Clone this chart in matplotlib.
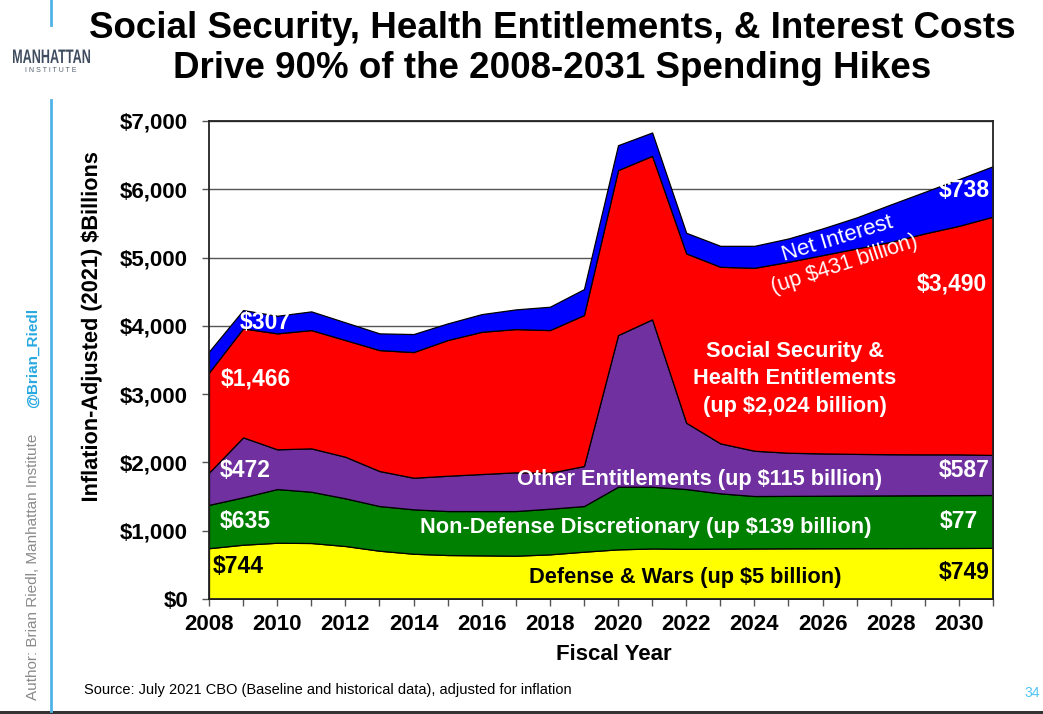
import matplotlib
matplotlib.use("Agg")
import matplotlib.pyplot as plt
from matplotlib.textpath import TextPath
from matplotlib.patches import PathPatch
from matplotlib.font_manager import FontProperties
from matplotlib.transforms import Affine2D

plt.rcParams['font.family'] = ['Liberation Sans', 'DejaVu Sans']

years = list(range(2008, 2032))
defense = [744, 795, 824, 820, 776, 707, 663, 644, 639, 634, 654, 693, 727,
           740, 735, 738, 740, 742, 743, 744, 745, 746, 747, 749]
non_defense = [635, 694, 786, 751, 698, 654, 650, 644, 649, 654, 668, 668, 917,
               904, 875, 809, 768, 768, 769, 771, 772, 773, 774, 774]
other_ent = [472, 878, 582, 635, 609, 513, 463, 517, 542, 567, 527, 586, 2221,
             2451, 971, 732, 663, 632, 620, 610, 603, 599, 597, 587]
ss_health = [1466, 1596, 1698, 1732, 1709, 1771, 1840, 1987, 2083, 2098, 2089, 2211, 2416,
             2395, 2480, 2586, 2679, 2796, 2904, 3009, 3111, 3236, 3347, 3490]
net_interest = [307, 268, 258, 274, 259, 245, 264, 244, 259, 288, 342, 380, 365,
                342, 302, 307, 322, 342, 391, 454, 547, 609, 684, 738]
ytick_labels = ['$0', '$1,000', '$2,000', '$3,000', '$4,000', '$5,000', '$6,000', '$7,000']

series = [defense, non_defense, other_ent, ss_health, net_interest]
colors = ['#FFFF00', '#008000', '#7030A0', '#FF0000', '#0000FF']

W, H = 1043, 714
fig = plt.figure(figsize=(W / 100, H / 100), dpi=100)
ax = fig.add_axes([209 / W, 1 - 599 / H, (993 - 209) / W, (599 - 121) / H])

ax.stackplot(years, *series, colors=colors, edgecolor='black', linewidth=0.9, zorder=2)

ax.set_xlim(2008, 2031)
ax.set_ylim(0, 7000)
ax.set_yticks(range(0, 7001, 1000))
ax.set_yticklabels(ytick_labels)
ax.set_xticks(years)
ax.set_xticklabels([str(y) if y % 2 == 0 else '' for y in years])
ax.yaxis.grid(True, color='#555555', linewidth=1.0, zorder=0)
ax.set_axisbelow(True)
for sp in ax.spines.values():
    sp.set_color('#222222')
    sp.set_linewidth(1.3)
ax.tick_params(axis='both', direction='out', length=5, width=1, color='#555555',
               labelsize=16, pad=6)
for lab in ax.get_xticklabels() + ax.get_yticklabels():
    lab.set_fontweight('bold')
ax.tick_params(axis='y', pad=10)


def fx(x):
    return x / W


def fy(y):
    return 1 - y / H


def path_text(s, cx, cy, width_px, cap_px, color='black', weight='bold', rotation=0):
    """Draw text as a filled path fitted to a given length and cap height (pixels)."""
    fp = FontProperties(family='Liberation Sans', weight=weight)
    tp = TextPath((0, 0), s, size=100, prop=fp)
    ext = tp.get_extents()
    cap = 71.6
    sx = width_px / ext.width
    sy = cap_px / cap
    tr = (Affine2D().translate(-ext.x0 - ext.width / 2, -cap / 2)
          .scale(sx, sy).rotate_deg(rotation).translate(cx, H - cy))
    patch = PathPatch(tp, transform=tr, facecolor=color, edgecolor='none', lw=0)
    fig.add_artist(patch)


# Title
fig.text(fx(552), fy(29), 'Social Security, Health Entitlements, & Interest Costs',
         ha='center', va='center', fontsize=26.5, fontweight='bold')
fig.text(fx(552), fy(68), 'Drive 90% of the 2008-2031 Spending Hikes',
         ha='center', va='center', fontsize=26.5, fontweight='bold')

# Axis labels
fig.text(fx(614), fy(655), 'Fiscal Year', ha='center', va='center',
         fontsize=16, fontweight='bold')
path_text('Inflation-Adjusted (2021) $Billions', 89, 327, 348, 16, rotation=90)

# In-plot labels
lab = dict(fontsize=16.5, fontweight='bold', va='center')
ax.text(2008.12, 469, '$744', color='black', ha='left', **lab)
ax.text(2008.32, 1142, '$635', color='white', ha='left', **lab)
ax.text(2008.32, 1889, '$472', color='white', ha='left', **lab)
ax.text(2008.35, 3222, '$1,466', color='white', ha='left', **lab)
ax.text(2008.91, 4056, '$307', color='white', ha='left', **lab)

ax.text(2030.91, 5975, '$738', color='white', ha='right', **lab)
ax.text(2030.82, 4613, '$3,490', color='white', ha='right', **lab)
ax.text(2030.91, 1889, '$587', color='white', ha='right', **lab)
ax.text(2030.56, 1142, '$77', color='white', ha='right', **lab)
ax.text(2030.91, 395, '$749', color='black', ha='right', **lab)

lab2 = dict(fontsize=15.7, fontweight='bold', va='center', ha='center')
ax.text(2021.96, 308, 'Defense & Wars (up $5 billion)', color='black', **lab2)
ax.text(2020.82, 1040, 'Non-Defense Discretionary (up $139 billion)', color='white', **lab2)
ax.text(2022.4, 1743, 'Other Entitlements (up $115 billion)', color='white', **lab2)
ax.text(2025.19, 3222, 'Social Security &\nHealth Entitlements\n(up $2,024 billion)',
        color='white', linespacing=1.4, **lab2)
ax.text(2026.45, 5270, 'Net Interest', color='white', rotation=17, fontsize=16,
        ha='center', va='center', rotation_mode='anchor')
ax.text(2026.63, 4900, '(up $431 billion)', color='white', rotation=18, fontsize=15.5,
        ha='center', va='center', rotation_mode='anchor')

# Left decorations
fig.add_artist(plt.Line2D([fx(51), fx(51)], [fy(0), fy(25)], color='#4FB3E8', lw=2))
fig.add_artist(plt.Line2D([fx(51), fx(51)], [fy(100), fy(711)], color='#4FB3E8', lw=2))
path_text('MANHATTAN', 51.5, 56, 77, 14, color='#3F4B5E')
fig.text(fx(51), fy(71), 'I N S T I T U T E', ha='center', va='center', fontsize=5,
         color='#55606E')
fig.text(fx(33), fy(700), 'Author: Brian Riedl, Manhattan Institute', rotation=90,
         ha='center', va='bottom', fontsize=11, color='#8A8A8A')
fig.text(fx(33), fy(308), '@Brian_Riedl', rotation=90, ha='center', va='top',
         fontsize=11, fontweight='bold', color='#29A8E0')

# Footer
fig.text(fx(84), fy(690), 'Source: July 2021 CBO (Baseline and historical data), adjusted for inflation',
         ha='left', va='center', fontsize=10.5, color='black')
fig.text(fx(1040), fy(693), '34', ha='right', va='center', fontsize=10, color='#4FC3F7')
fig.add_artist(plt.Rectangle((0, 0), 1, 3 / H, transform=fig.transFigure,
                             color='#333333', lw=0))

fig.savefig('out.png', dpi=100, facecolor='white')
